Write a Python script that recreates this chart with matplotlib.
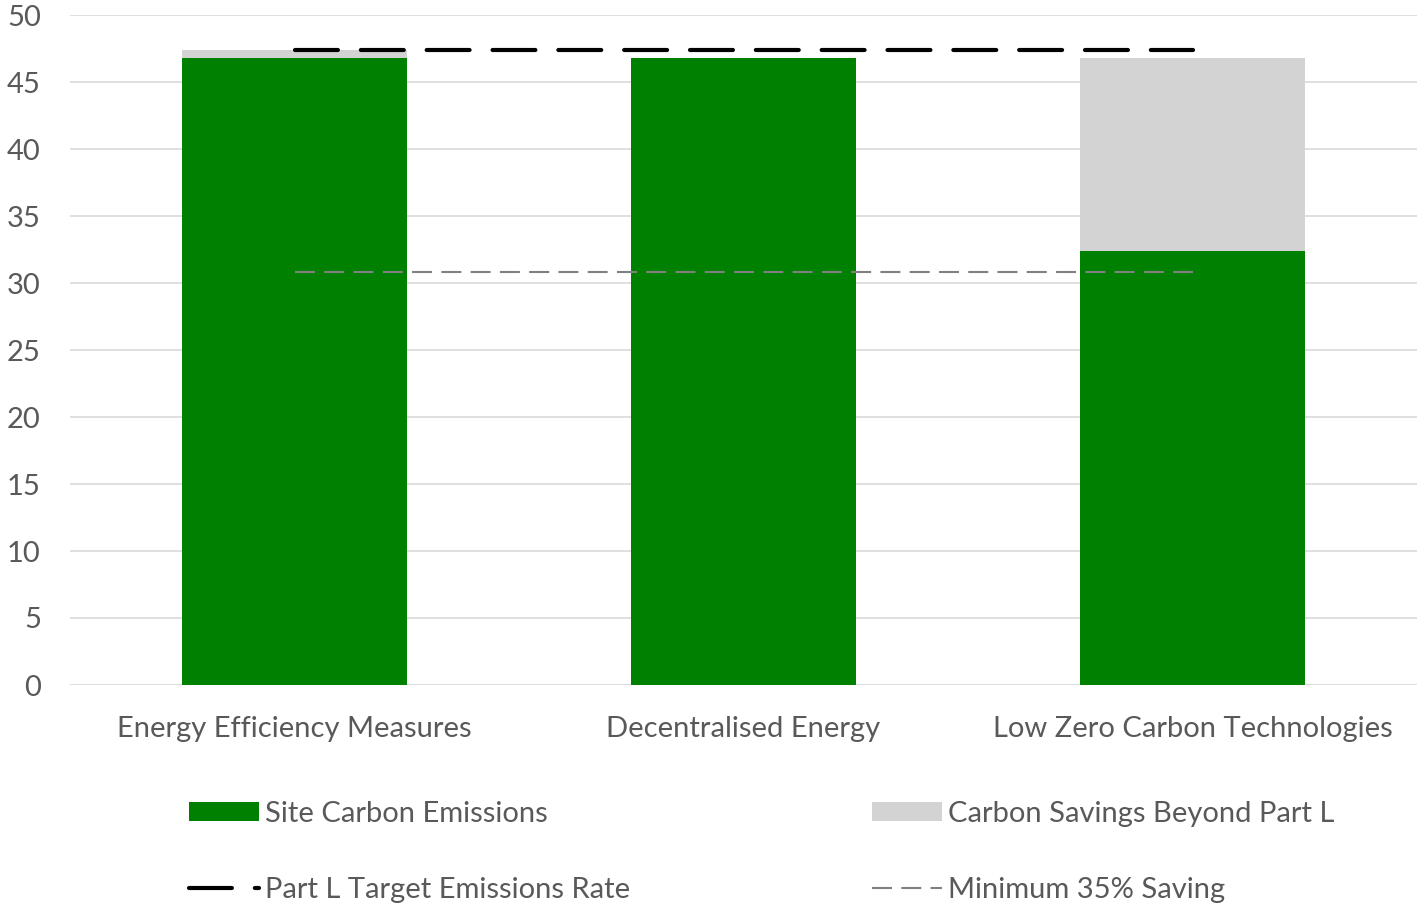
import matplotlib
matplotlib.use("Agg")
import matplotlib.pyplot as plt
import numpy as np
from matplotlib.lines import Line2D
from matplotlib.patches import Patch

# data
categories = ["Energy Efficiency Measures", "Decentralised Energy", "Low Zero Carbon Technologies"]
site_emissions = [46.8, 46.8, 32.4]
savings_beyond = [0.6, 0.0, 14.4]
target_rate = [47.4, 47.4, 47.4]
min_saving = [30.8, 30.8, 30.8]

green = "#008000"
light = "#d3d3d3"
txt = "#595959"
fs = 21

plt.rcParams["font.family"] = ["Lato", "DejaVu Sans"]

fig = plt.figure(figsize=(14.17, 9.05), dpi=100)
ax = fig.add_axes([70 / 1417, 1 - 685 / 905, 1 - 70 / 1417, 670 / 905])

x = np.arange(len(categories))
ax.bar(x, site_emissions, width=0.5, color=green, zorder=2)
ax.bar(x, savings_beyond, width=0.5, bottom=site_emissions, color=light, zorder=2)

ax.plot(x, target_rate, color="black", lw=3, dashes=(10.3, 5.5),
        dash_capstyle="round", zorder=3)
ax.plot(x, min_saving, color="#808080", lw=1.5, dashes=(9.6, 4.45), zorder=3)

ax.set_xlim(-0.5, 2.5)
ax.set_ylim(0, 50)
ax.set_yticks(np.arange(0, 51, 5))
ax.yaxis.grid(True, color="#d9d9d9", lw=1.2, zorder=0)
ax.set_axisbelow(True)
for s in ax.spines.values():
    s.set_visible(False)
ax.tick_params(axis="both", length=0, labelsize=fs, labelcolor=txt)
ax.tick_params(axis="y", pad=21)
ax.tick_params(axis="x", pad=22)
ax.set_xticks(x)
ax.set_xticklabels(categories)

# legend, two columns laid out by hand
h_site = Patch(facecolor=green)
h_sav = Patch(facecolor=light)
h_tgt = Line2D([], [], color="black", lw=3, dashes=(10.3, 5.5), dash_capstyle="round")
h_min = Line2D([], [], color="#808080", lw=1.5, dashes=(9.6, 4.45))

leg_kw = dict(frameon=False, fontsize=fs, labelcolor=txt, handlelength=2.4,
              handleheight=0.6, handletextpad=0.2, labelspacing=1.7,
              borderaxespad=0, borderpad=0, loc="upper left")
fig.legend([h_site, h_tgt], ["Site Carbon Emissions", "Part L Target Emissions Rate"],
           bbox_to_anchor=(189 / 1417, 1 - 801 / 905), **leg_kw)
fig.legend([h_sav, h_min], ["Carbon Savings Beyond Part L", "Minimum 35% Saving"],
           bbox_to_anchor=(872 / 1417, 1 - 801 / 905), **leg_kw)

fig.savefig("out.png", dpi=100)
